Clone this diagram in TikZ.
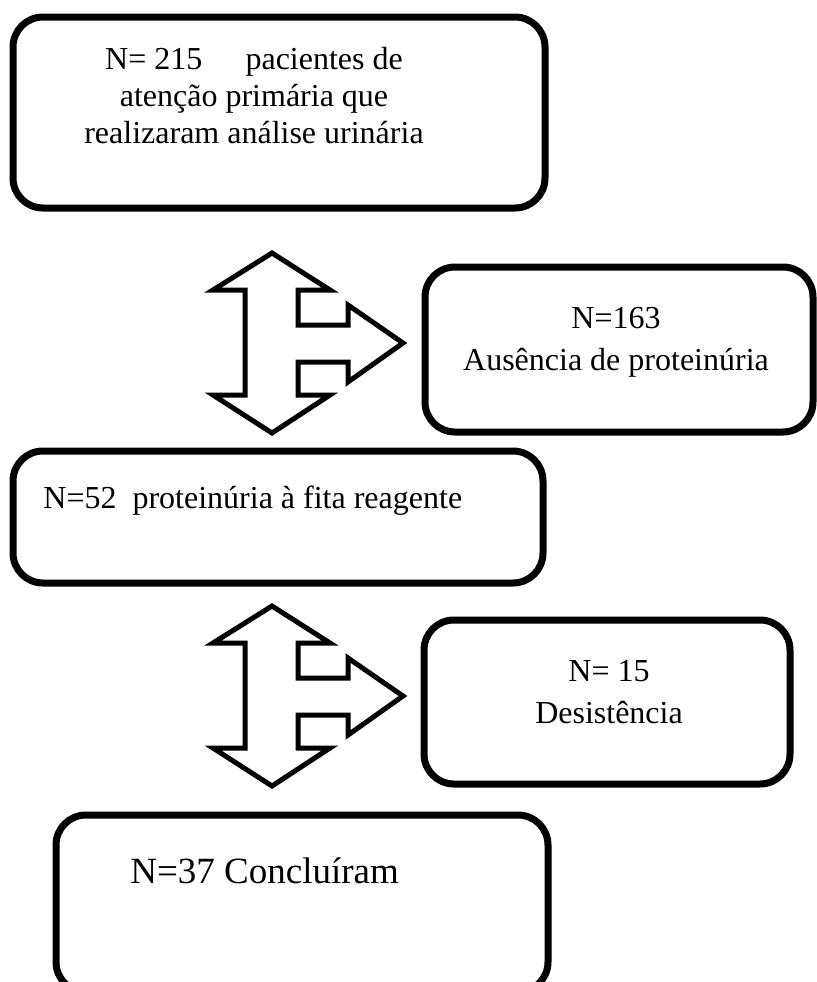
\documentclass[tikz,border=0pt]{standalone}
\usepackage{fontspec}
\setmainfont{Liberation Serif}

\begin{document}
\begin{tikzpicture}[
    x=0.5pt, y=-0.5pt,
    caixa/.style={draw, line width=3.5pt, rounded corners=15pt, inner sep=0pt},
    seta/.style={draw, line width=2.5pt, line join=miter, fill=white},
    txt/.style={inner sep=0pt, align=center, font=\fontsize{16}{21}\selectfont},
  ]
  \useasboundingbox (0,0) rectangle (817,982);
  \clip (0,0) rectangle (817,982);

  % Boxes
  \node[caixa, minimum width=266pt, minimum height=95.5pt] (b215) at (279,112.5) {};
  \node[caixa, minimum width=194pt, minimum height=82.5pt] (b163) at (619,349.5) {};
  \node[caixa, minimum width=265pt, minimum height=66pt] (b52) at (278,517) {};
  \node[caixa, minimum width=183pt, minimum height=82pt] (b15) at (607,702) {};
  \node[caixa, minimum width=246pt, minimum height=88.5pt] (b37) at (302,903.5) {};

  % Texts (base = last line)
  \node[txt, font=\fontsize{16}{18.5}\selectfont, anchor=base] (t215) at (254,143)
    {N= 215\hspace{1.35em}pacientes de\\atenção primária que\\realizaram análise urinária};
  \node[txt, anchor=base] (t163) at (616,370) {N=163\\Ausência de proteinúria};
  \node[txt, anchor=base west] (t52) at (43,508) {N=52\ \ proteinúria à fita reagente};
  \node[txt, anchor=base] (t15) at (609,723) {N= 15\\Desistência};
  \node[txt, font=\fontsize{18.5}{22}\selectfont, anchor=base west] (t37) at (130,883)
    {N=37 Concluíram};

  % Block arrows
  \foreach \dy in {0,353} {
    \begin{scope}[shift={(272,{343+\dy})}]
      \draw[seta] (0,-90) -- (58,-53) -- (26,-53) -- (26,-18) -- (76,-18)
        -- (76,-38) -- (131,0) -- (76,39) -- (76,19) -- (26,19) -- (26,52)
        -- (58,52) -- (0,90) -- (-59,52) -- (-27,52) -- (-27,-53)
        -- (-59,-53) -- cycle;
    \end{scope}
  }

\end{tikzpicture}
\end{document}
